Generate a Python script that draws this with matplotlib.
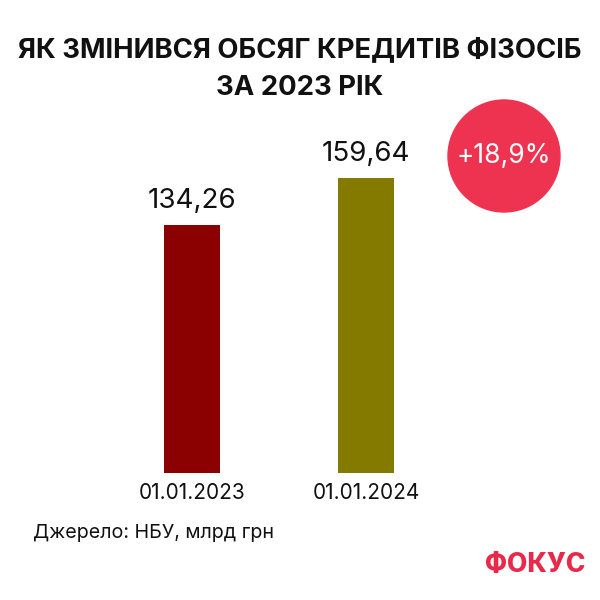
import matplotlib
matplotlib.use("Agg")
import matplotlib.pyplot as plt
from matplotlib.patches import Circle

plt.rcParams['font.family'] = ['Inter', 'DejaVu Sans']

title_lines = ["ЯК ЗМІНИВСЯ ОБСЯГ КРЕДИТІВ ФІЗОСІБ", "ЗА 2023 РІК"]
categories = ["01.01.2023", "01.01.2024"]
values = [134.26, 159.64]
value_labels = ["134,26", "159,64"]
colors = ["#8B0000", "#857A00"]
change_label = "+18,9%"
source = "Джерело: НБУ, млрд грн"
brand = "ФОКУС"

W = H = 600
fig = plt.figure(figsize=(6, 6), dpi=100)
fig.patch.set_facecolor("white")

bottom_px = 473
top_px = 100
ax = fig.add_axes([0, (H - bottom_px) / H, 1, (bottom_px - top_px) / H])
scale = 174.0
c0 = 192.0
ax.set_xlim(-c0 / scale, (W - c0) / scale)
bar_top_px = 178
ymax = values[1] * (bottom_px - top_px) / (bottom_px - bar_top_px)
ax.set_ylim(0, ymax)
ax.axis("off")

x = list(range(len(values)))
ax.bar(x, values, width=56 / scale, color=colors)
for xi, v, lab in zip(x, values, value_labels):
    ax.annotate(lab, (xi, v), xytext=(0, 8), textcoords="offset points",
                ha="center", va="bottom", fontsize=20, color="#111111")
for xi, cat in zip(x, categories):
    ax.annotate(cat, (xi, 0), xytext=(0, -7), textcoords="offset points",
                ha="center", va="top", fontsize=15, color="#111111")

for i, (line, ypx) in enumerate(zip(title_lines, [50, 88])):
    fig.text(0.5, 1 - ypx / H, line, ha="center", va="center", fontsize=19.8,
             fontweight="bold", color="#111111")

circ = Circle((504 / W, 1 - 156 / H), 56 / W, transform=fig.transFigure,
              color="#EE3351", zorder=5)
fig.add_artist(circ)
fig.text(504 / W, 1 - 156 / H, change_label, ha="center", va="center",
         fontsize=19, color="white", zorder=6)

fig.text(33 / W, 1 - 533 / H, source, ha="left", va="center",
         fontsize=14.2, color="#111111")
fig.text(585 / W, 1 - 565 / H, brand, ha="right", va="center",
         fontsize=19, fontweight="heavy", color="#E8294A")

fig.savefig("out.png", dpi=100, facecolor="white")
